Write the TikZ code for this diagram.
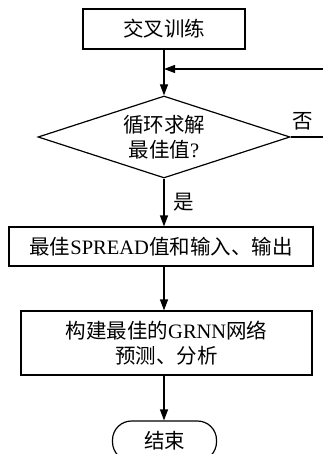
\documentclass[tikz,border=0pt]{standalone}
\usepackage{fontspec}
\setmainfont{Liberation Serif}
\newfontfamily\cjk{Noto Sans CJK SC}
\usetikzlibrary{shapes.geometric,arrows.meta}
\begin{document}
\begin{tikzpicture}[x=1pt,y=-1pt,
  every node/.style={font=\fontsize{20.5}{25}\selectfont},
  box/.style={draw,line width=1.2pt,inner sep=0pt,align=center},
  dec/.style={draw,diamond,line width=1.2pt,inner sep=0pt,align=center,minimum width=252pt,minimum height=82pt,aspect=3},
  term/.style={draw,line width=1.2pt,rounded corners=19pt,inner sep=0pt,minimum width=104pt,minimum height=40pt},
  arr/.style={line width=1.2pt,-{Triangle[length=11pt,width=8pt]}},
  lbl/.style={inner sep=0pt}]
\useasboundingbox (0,0) rectangle (323,454);
\node[box,minimum width=162pt,minimum height=40pt] (b1) at (164,29) {\cjk 交叉训练};
\node[dec] (d) at (164,137) {\cjk 循环求解\\{\cjk 最佳值}?};
\node[box,minimum width=304pt,minimum height=39pt] (b2) at (161,246.5) {{\cjk 最佳}SPREAD{\cjk 值和输入、输出}};
\node[box,minimum width=291pt,minimum height=64pt] (b3) at (166.5,343) {{\cjk 构建最佳的}GRNN{\cjk 网络}\\{\cjk 预测、分析}};
\node[term] (e) at (164.5,441) {\cjk 结束};
\coordinate (fb) at (326,69);
\draw[arr] (b1.south) -- (d.north);
\draw[arr] (d.south) -- (d.south |- b2.north);
\draw[arr] (d.south |- b2.south) -- (d.south |- b3.north);
\draw[arr] (d.south |- b3.south) -- (d.south |- e.north);
\draw[arr] (d.east) -- (d.east -| fb) -- (fb) -- (fb -| d.north);
\node[lbl] (no) at (303,121) {\cjk 否};
\node[lbl] (yes) at (184,202) {\cjk 是};
\end{tikzpicture}
\end{document}
